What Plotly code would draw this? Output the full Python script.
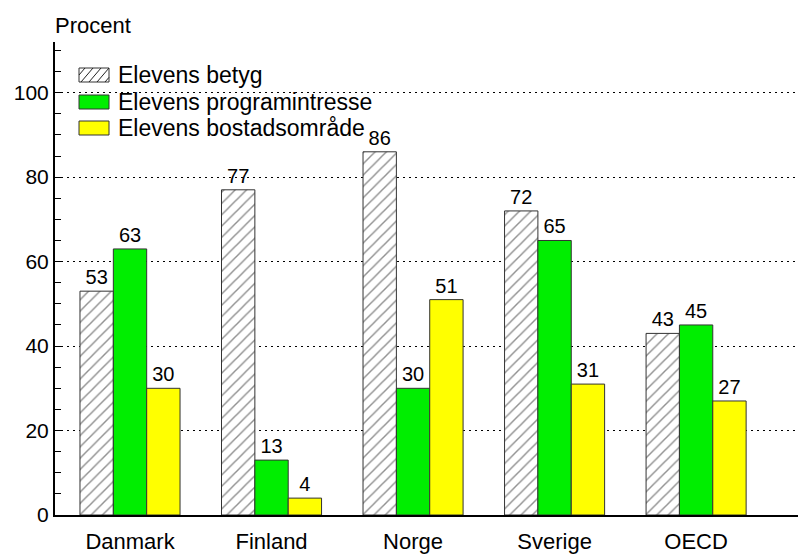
import plotly.graph_objects as go

categories = ["Danmark", "Finland", "Norge", "Sverige", "OECD"]
betyg = [53, 77, 86, 72, 43]
programintresse = [63, 13, 30, 65, 45]
bostadsomrade = [30, 4, 51, 31, 27]
series_names = ["Elevens betyg", "Elevens programintresse", "Elevens bostadsområde"]
y_ticks = [0, 20, 40, 60, 80, 100]
y_minor = [5, 10, 15, 25, 30, 35, 45, 50, 55, 65, 70, 75, 85, 90, 95, 105, 110]

FONT = "Liberation Sans, Arial, sans-serif"
EDGE = "#333333"
GREEN = "#00ee00"
YELLOW = "#ffff00"

W, H = 798, 557
ML, MR, MT, MB = 55, 0, 42, 42
PW, PH = W - ML - MR, H - MT - MB


def px_x(px):
    return (px - ML) / PW


def px_y(py):
    return (H - MB - py) / PH


fig = go.Figure()
fig.add_trace(go.Bar(
    x=categories, y=betyg, name=series_names[0],
    marker=dict(color="white", line=dict(color=EDGE, width=1),
                pattern=dict(shape="/", fgcolor="#222222", bgcolor="white", size=8, solidity=0.18)),
    text=betyg, textposition="outside", cliponaxis=False,
    textfont=dict(size=20, color="black", family=FONT),
))
fig.add_trace(go.Bar(
    x=categories, y=programintresse, name=series_names[1],
    marker=dict(color=GREEN, line=dict(color=EDGE, width=1)),
    text=programintresse, textposition="outside", cliponaxis=False,
    textfont=dict(size=20, color="black", family=FONT),
))
fig.add_trace(go.Bar(
    x=categories, y=bostadsomrade, name=series_names[2],
    marker=dict(color=YELLOW, line=dict(color=EDGE, width=1)),
    text=bostadsomrade, textposition="outside", cliponaxis=False,
    textfont=dict(size=20, color="black", family=FONT),
))

# manual legend (boxes + labels)
shapes = []
annotations = []
box_x0, box_x1 = 79, 109
row_tops = [68, 95, 121]
fills = ["white", GREEN, YELLOW]
for i, (top, fill, name) in enumerate(zip(row_tops, fills, series_names)):
    shapes.append(dict(type="rect", xref="paper", yref="paper",
                       x0=px_x(box_x0), x1=px_x(box_x1), y0=px_y(top + 14), y1=px_y(top),
                       fillcolor=fill, line=dict(color=EDGE, width=1), layer="above"))
    annotations.append(dict(text=name, xref="paper", yref="paper",
                            x=px_x(box_x1 + 7), y=px_y(top + 7), xanchor="left", yanchor="middle",
                            showarrow=False, font=dict(size=23, family=FONT, color="black")))
# hatch lines inside legend box 1
top = row_tops[0]
for k in [-6, 2, 10, 18, 26]:
    xa, ya = box_x0 + k, top + 14
    xb, yb = box_x0 + k + 12, top
    if xa < box_x0:
        ya = ya - (box_x0 - xa) * 14 / 12
        xa = box_x0
    if xb > box_x1:
        yb = yb + (xb - box_x1) * 14 / 12
        xb = box_x1
    shapes.append(dict(type="line", xref="paper", yref="paper",
                       x0=px_x(xa), y0=px_y(ya), x1=px_x(xb), y1=px_y(yb),
                       line=dict(color="#222222", width=1), layer="above"))

annotations.append(dict(text="Procent", xref="paper", yref="paper", x=px_x(53), y=px_y(25),
                        xanchor="left", yanchor="middle", showarrow=False,
                        font=dict(size=22, family=FONT, color="black")))

fig.update_layout(
    width=W, height=H,
    margin=dict(l=ML, r=MR, t=MT, b=MB, autoexpand=False),
    paper_bgcolor="white", plot_bgcolor="white",
    barmode="group", bargap=0.293, bargroupgap=0,
    font=dict(family=FONT, size=22, color="black"),
    showlegend=False,
    xaxis=dict(range=[-0.53, 4.72], showline=True, linecolor="black", linewidth=2,
               ticks="", showgrid=False, tickfont=dict(size=22, color="black"),
               ticklabelstandoff=6, automargin=False),
    yaxis=dict(range=[0, 112], showline=True, linecolor="black", linewidth=2,
               tickvals=y_ticks, ticks="inside", ticklen=6, tickcolor="black", tickwidth=1,
               showgrid=True, gridcolor="black", griddash="2px,4px", gridwidth=1,
               zeroline=False, tickfont=dict(size=21, color="black"), automargin=False,
               minor=dict(tickvals=y_minor, ticks="inside", ticklen=6, tickcolor="black",
                          tickwidth=1, showgrid=False)),
    shapes=shapes,
    annotations=annotations,
)

fig.write_html("out.html", config={"displayModeBar": False},
               post_script="document.body.style.margin='0';document.body.style.overflow='hidden';")
